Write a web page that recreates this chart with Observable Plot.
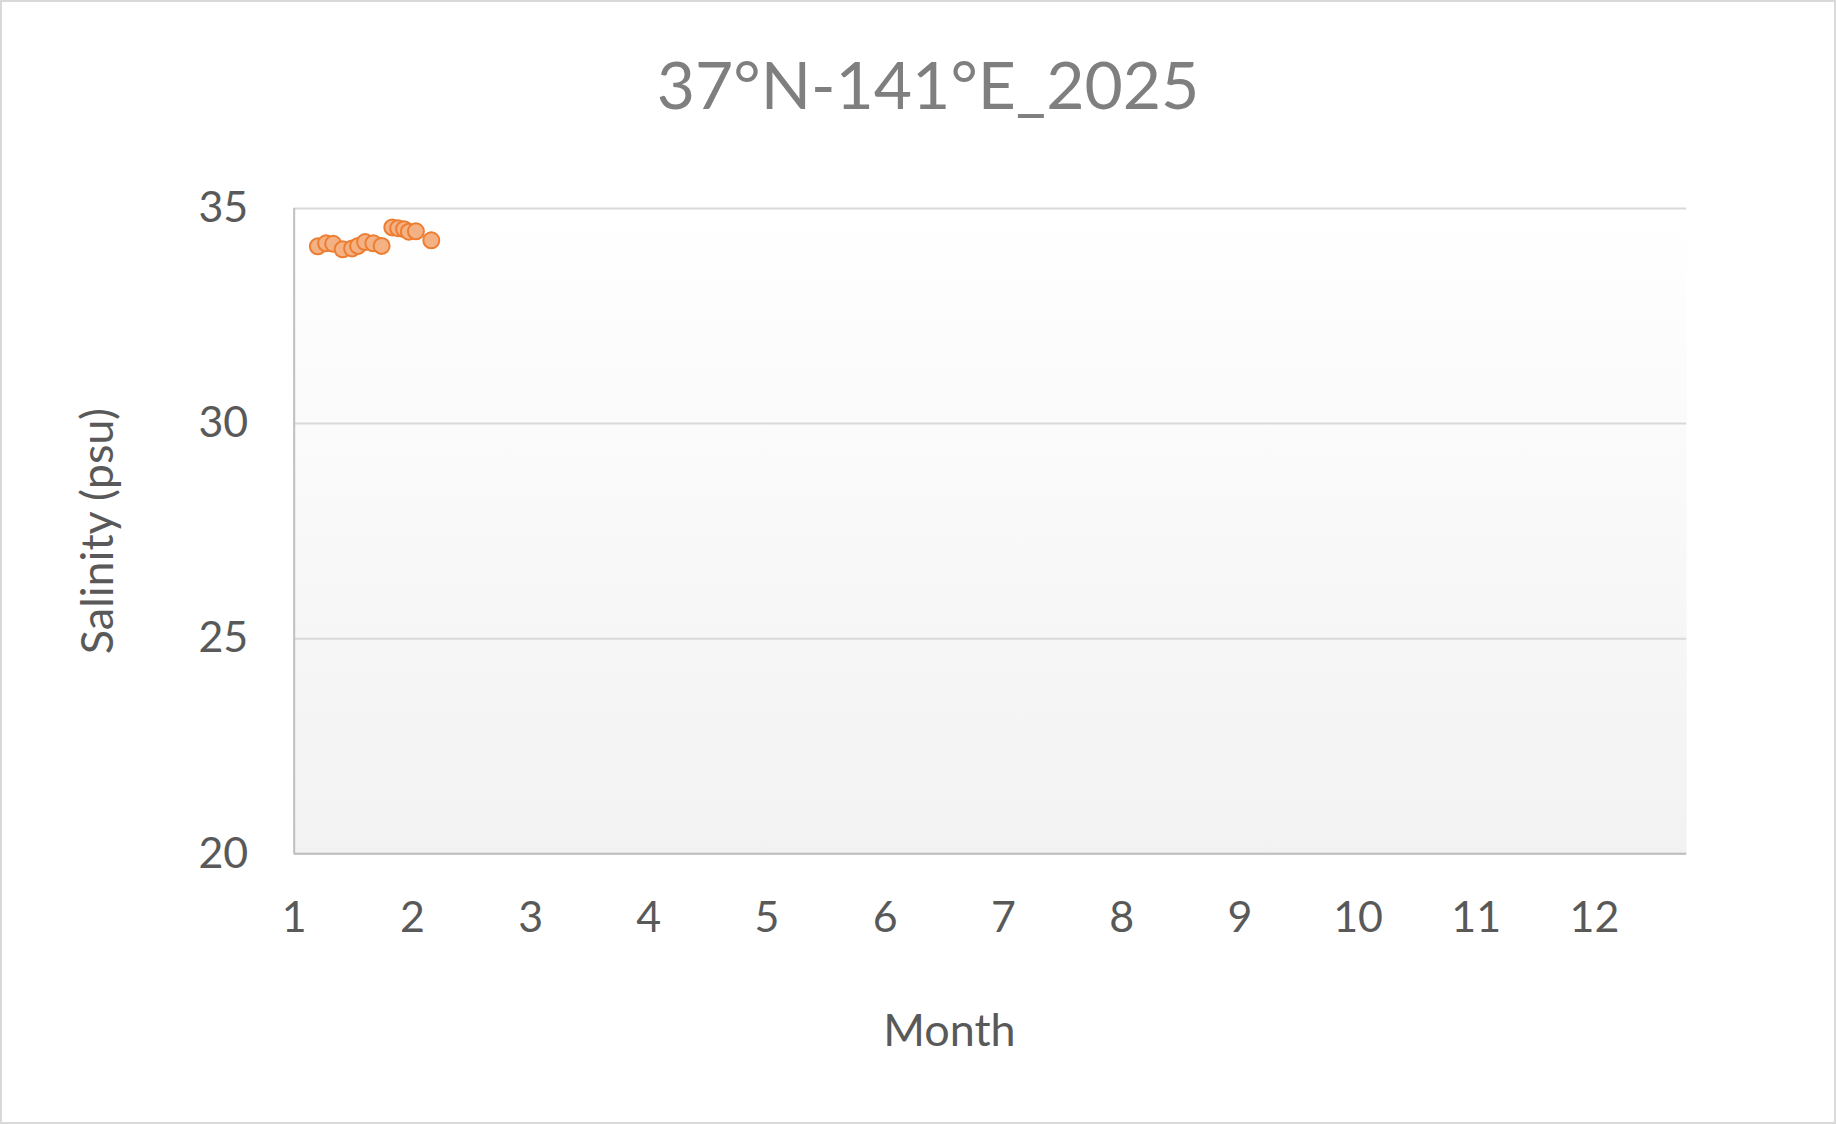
<!DOCTYPE html>
<html>
<head>
<meta charset="utf-8">
<script src="https://cdn.jsdelivr.net/npm/d3@7"></script>
<script src="https://cdn.jsdelivr.net/npm/@observablehq/plot@0.6"></script>
<style>
  html, body { margin: 0; padding: 0; background: #fff; }
  #chart { position: relative; width: 1836px; height: 1124px; box-sizing: border-box; border: 2px solid #d9d9d9; background: #fff; overflow: hidden; font-family: Lato, "Open Sans", sans-serif; }
  #title { position: absolute; left: 10px; top: 0; width: 100%; height: 162px; display: flex; align-items: center; justify-content: center; font-size: 66px; color: #7f7f7f; }
  #plot { position: absolute; left: -2px; top: 178px; }
</style>
</head>
<body>
<div id="chart">
  <div id="title">37°N-141°E_2025</div>
  <div id="plot"></div>
</div>
<script>
const month = [1.20, 1.27, 1.33, 1.41, 1.49, 1.54, 1.60, 1.67, 1.74, 1.83, 1.88, 1.93, 1.97, 2.03, 2.16];
const salinity = [34.12, 34.19, 34.18, 34.05, 34.07, 34.13, 34.22, 34.19, 34.13, 34.56, 34.54, 34.52, 34.46, 34.47, 34.26];
const xTicks = [1, 2, 3, 4, 5, 6, 7, 8, 9, 10, 11, 12];
const yTicks = [20, 25, 30, 35];

const data = month.map((m, i) => ({month: m, salinity: salinity[i]}));

const gradient = () => {
  const defs = d3.create("svg:defs");
  const g = defs.append("linearGradient").attr("id", "bg").attr("x1", 0).attr("y1", 0).attr("x2", 0).attr("y2", 1);
  g.append("stop").attr("offset", "0%").attr("stop-color", "#ffffff");
  g.append("stop").attr("offset", "100%").attr("stop-color", "#f2f2f2");
  return defs.node();
};

const chart = Plot.plot({
  width: 1836,
  height: 944,
  marginLeft: 294,
  marginRight: 148,
  marginTop: 28,
  marginBottom: 270,
  style: {fontFamily: "Lato, 'Open Sans', sans-serif", background: "transparent", overflow: "visible"},
  x: {domain: [1, 12.78], ticks: xTicks, tickSize: 0, label: null, tickFormat: d => String(d)},
  y: {domain: [20, 35], ticks: yTicks, tickSize: 0, label: null},
  marks: [
    gradient,
    Plot.frame({fill: "url(#bg)", stroke: null}),
    Plot.gridY(yTicks, {stroke: "#d9d9d9", strokeOpacity: 1, strokeWidth: 2}),
    Plot.ruleX([1], {stroke: "#bfbfbf", strokeWidth: 2}),
    Plot.ruleY([20], {stroke: "#bfbfbf", strokeWidth: 2}),
    Plot.axisX(xTicks, {tickSize: 0, tickPadding: 48, fontSize: 43, fill: "#595959", label: null, tickFormat: d => String(d)}),
    Plot.axisY(yTicks, {tickSize: 0, tickPadding: 46, fontSize: 43, fill: "#595959", label: null}),
    Plot.text(["Month"], {frameAnchor: "bottom", dx: -41, dy: 192, fontSize: 45, fill: "#595959"}),
    Plot.text(["Salinity (psu)"], {frameAnchor: "left", textAnchor: "middle", dx: -196, dy: 0, rotate: -90, fontSize: 45, fill: "#595959"}),
    Plot.dot(data, {x: "month", y: "salinity", r: 8, fill: "#f4b183", stroke: "#ed7d31", strokeWidth: 2})
  ]
});
document.getElementById("plot").appendChild(chart);
</script>
</body>
</html>
